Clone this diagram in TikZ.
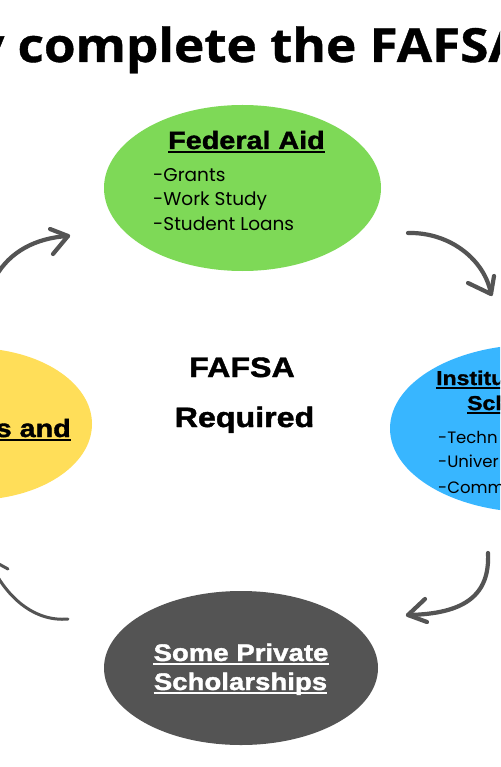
\documentclass[tikz,border=0pt]{standalone}
\usepackage{fontspec}
\usetikzlibrary{shapes.geometric}
\setmainfont{Liberation Sans}
\newfontfamily\heavy{Liberation Sans}[BoldFeatures={FakeStretch=1.15,FakeBold=1.5}]
\newfontfamily\titlefont{Open Sans}[BoldFeatures={FakeStretch=1.09,FakeBold=0.8}]
\newfontfamily\listfont{Poppins}
\definecolor{fgreen}{HTML}{7ED957}
\definecolor{fyellow}{HTML}{FFDE59}
\definecolor{fblue}{HTML}{38B6FF}
\definecolor{fgray}{HTML}{545454}
\definecolor{arrowgray}{HTML}{545454}
\begin{document}
\begin{tikzpicture}[x=1pt,y=-1pt,
  blob/.style={ellipse, inner sep=0pt, draw=none},
  head/.style={font=\heavy\bfseries\fontsize{25}{30}\selectfont, inner sep=0pt, anchor=base},
  headsm/.style={font=\heavy\bfseries\fontsize{20}{24}\selectfont, inner sep=0pt, anchor=base west},
  big/.style={font=\heavy\bfseries\fontsize{28}{34}\selectfont, inner sep=0pt, anchor=base},
  item/.style={font=\listfont\fontsize{18.5}{24}\selectfont, inner sep=0pt, anchor=base west},
  itemsm/.style={font=\listfont\fontsize{16.5}{20}\selectfont, inner sep=0pt, anchor=base west},
  ul/.style={line width=1.6pt},
  arr/.style={draw=arrowgray, line width=4.2pt, line cap=round, line join=round},
  arrthin/.style={draw=arrowgray, line width=3pt, line cap=round, line join=round}]
\useasboundingbox (0,0) rectangle (500,767);
\clip (0,0) rectangle (500,767);
\fill[white] (0,0) rectangle (500,767);

% title
\node[font=\titlefont\bfseries\fontsize{47}{56}\selectfont, inner sep=0pt, anchor=base west] (title) at (-25,62) {y complete the FAFSA};

% ellipses
\node[blob, fill=fgreen, minimum width=277pt, minimum height=166pt] (fed) at (242.5,188) {};
\node[blob, fill=fyellow, minimum width=238pt, minimum height=152pt] (state) at (-27,424) {};
\node[blob, fill=fblue, minimum width=290pt, minimum height=168pt] (inst) at (535,428.5) {};
\node[blob, fill=fgray, minimum width=274pt, minimum height=154pt] (priv) at (241,668) {};

% federal aid text
\node[head] (fedt) at (246.5,149) {Federal Aid};
\draw[ul] ([yshift=-3pt]fedt.base west) -- ([yshift=-3pt]fedt.base east);
\node[item] (g1) at (153,182) {-Grants};
\node[item] (g2) at (153,206) {-Work Study};
\node[item] (g3) at (153,230) {-Student Loans};

% center text
\node[big] (c1) at (242,377) {FAFSA};
\node[big] (c2) at (244.5,427) {Required};

% state text
\node[head, anchor=base east] (st) at (71,437) {s and};
\draw[ul] ([yshift=-3pt]st.base west) -- ([yshift=-3pt]st.base east);

% institution text
\node[headsm] (i1) at (436,385) {Institu};
\draw[ul] ([yshift=-3pt]i1.base west) -- ([yshift=-3pt]i1.base east);
\node[headsm] (i2) at (467,410) {Sch};
\draw[ul] ([yshift=-3pt]i2.base west) -- ([yshift=-3pt]i2.base east);
\node[itemsm] (b1) at (438,443) {-Techn};
\node[itemsm] (b2) at (438,467) {-Univer};
\node[itemsm] (b3) at (438,493) {-Comm};

% private text
\node[head, text=white, font=\heavy\bfseries\fontsize{24}{30}\selectfont] (p1) at (241,661) {Some Private};
\draw[ul, white] ([yshift=-3pt]p1.base west) -- ([yshift=-3pt]p1.base east);
\node[head, text=white, font=\heavy\bfseries\fontsize{24}{30}\selectfont] (p2) at (240.5,690) {Scholarships};
\draw[ul, white] ([yshift=-3pt]p2.base west) -- ([yshift=-3pt]p2.base east);

% arrows
\coordinate (a1s) at (-4,276);
\coordinate (a1t) at (68,236);
\coordinate (a1u) at (50,229);
\coordinate (a1l) at (53,254);
\draw[arr] (a1s) .. controls (10,252) and (35,238) .. (a1t);
\draw[arr] (a1u) -- (a1t) -- (a1l);

\coordinate (a2s) at (408,233);
\coordinate (a2t) at (491,294);
\coordinate (a2u) at (468,283);
\coordinate (a2l) at (494,276);
\draw[arr] (a2s) .. controls (450,232) and (485,260) .. (a2t);
\draw[arr] (a2u) -- (a2t) -- (a2l);

\coordinate (a3s) at (488,553);
\coordinate (a3t) at (408,615);
\coordinate (a3u) at (425,599);
\coordinate (a3l) at (427,622);
\draw[arr] (a3s) .. controls (490,595) and (465,614) .. (a3t);
\draw[arr] (a3u) -- (a3t) -- (a3l);

\coordinate (a4s) at (68,619);
\coordinate (a4t) at (-12,558);
\coordinate (a4l) at (8,569);
\coordinate (a4u) at (-16,578);
\draw[arrthin] (a4s) .. controls (35,622) and (5,598) .. (a4t);
\draw[arrthin] (a4u) -- (a4t) -- (a4l);
\end{tikzpicture}
\end{document}
